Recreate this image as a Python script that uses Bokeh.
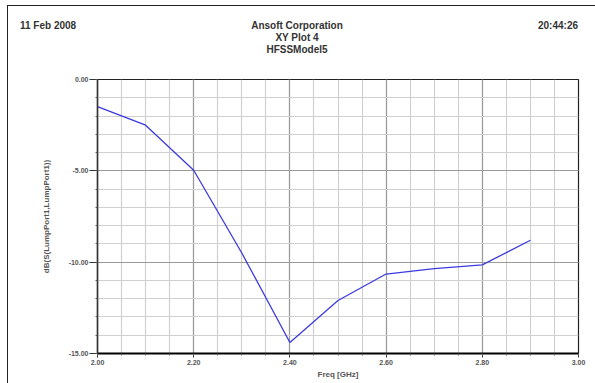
from bokeh.plotting import figure
from bokeh.layouts import column, row
from bokeh.models import FixedTicker, Div, CustomJSTickFormatter
from bokeh.embed import file_html
from bokeh.resources import INLINE

freq = [2.0, 2.1, 2.2, 2.3, 2.4, 2.5, 2.6, 2.7, 2.8, 2.9]
s11_db = [-1.48, -2.5, -4.97, -9.5, -14.4, -12.1, -10.65, -10.35, -10.15, -8.8]

x_major = [2.0, 2.2, 2.4, 2.6, 2.8, 3.0]
x_minor = [round(2.0 + 0.05 * i, 2) for i in range(21)]
y_major = [-15.0, -10.0, -5.0, 0.0]
y_minor = [float(v) for v in range(-15, 1)]

date_text = "11 Feb 2008"
time_text = "20:44:26"
title_lines = ["Ansoft Corporation", "XY Plot 4", "HFSSModel5"]
x_label = "Freq [GHz]"
y_label = "dB(S(LumpPort1,LumpPort1))"

FONT = "Liberation Sans"

p = figure(width=587, height=317, output_backend="svg", toolbar_location=None,
           x_range=(2.0, 3.0), y_range=(-15.0, 0.0),
           min_border_left=89, min_border_right=17, min_border_top=13, min_border_bottom=30)
p.background_fill_color = "white"
p.border_fill_color = "white"
p.outline_line_color = "#222222"
p.outline_line_width = 1.2

p.xaxis.ticker = FixedTicker(ticks=x_major, minor_ticks=x_minor)
p.yaxis.ticker = FixedTicker(ticks=y_major, minor_ticks=y_minor)
p.xaxis.formatter = CustomJSTickFormatter(code="return tick.toFixed(2);")
p.yaxis.formatter = CustomJSTickFormatter(code="return tick.toFixed(2);")

for ax in (p.xaxis, p.yaxis):
    ax.major_label_text_font = FONT
    ax.major_label_text_font_size = "7px"
    ax.major_label_text_font_style = "bold"
    ax.major_label_text_color = "#555555"
    ax.axis_label_text_font = FONT
    ax.axis_label_text_font_size = "8px"
    ax.axis_label_text_font_style = "bold"
    ax.axis_label_text_color = "#555555"
    ax.major_tick_in = 0
    ax.minor_tick_in = 0
    ax.minor_tick_out = 2
    ax.major_tick_line_color = "#333333"
    ax.minor_tick_line_color = "#555555"

p.yaxis.major_tick_out = 8
p.xaxis.major_tick_out = 4
p.xaxis.axis_line_color = "black"
p.xaxis.axis_line_width = 2.2
p.yaxis.axis_line_color = "#333333"
p.yaxis.axis_line_width = 1.5
p.xaxis.axis_label = x_label
p.yaxis.axis_label = y_label
p.xaxis.major_label_standoff = 2
p.yaxis.major_label_standoff = 1
p.xaxis.axis_label_standoff = 2
p.yaxis.axis_label_standoff = 15

p.xgrid.grid_line_color = "#9a9a9a"
p.ygrid.grid_line_color = "#9a9a9a"
p.xgrid.minor_grid_line_color = "#d0d0d0"
p.ygrid.minor_grid_line_color = "#d0d0d0"
p.xgrid.grid_line_width = 1.2
p.ygrid.grid_line_width = 1.2
p.xgrid.minor_grid_line_width = 1.2
p.ygrid.minor_grid_line_width = 1.2

p.line(freq, s11_db, line_color="#3b3be0", line_width=1.3)

base_style = {"font-family": "'Liberation Sans', Arial, sans-serif", "font-size": "10px",
              "font-weight": "bold", "color": "#333333", "line-height": "12px",
              "white-space": "nowrap"}

date_div = Div(text=date_text, width=200, height=46, margin=(14, 0, 0, 12),
               styles=dict(base_style, **{"text-align": "left"}))
title_div = Div(text="<br>".join(title_lines), width=154, height=46, margin=(14, 0, 0, 0),
                styles=dict(base_style, **{"text-align": "center"}))
time_div = Div(text=time_text, width=204, height=46, margin=(14, 17, 0, 0),
               styles=dict(base_style, **{"text-align": "right"}))
header = row(date_div, title_div, time_div, spacing=0, margin=0)

layout = column(header, p, margin=(5, 0, 0, 7), spacing=0,
                styles={"border-top": "1px solid #222222", "border-left": "1px solid #222222",
                        "background": "white"})

open("out.html", "w").write(file_html(layout, INLINE))
